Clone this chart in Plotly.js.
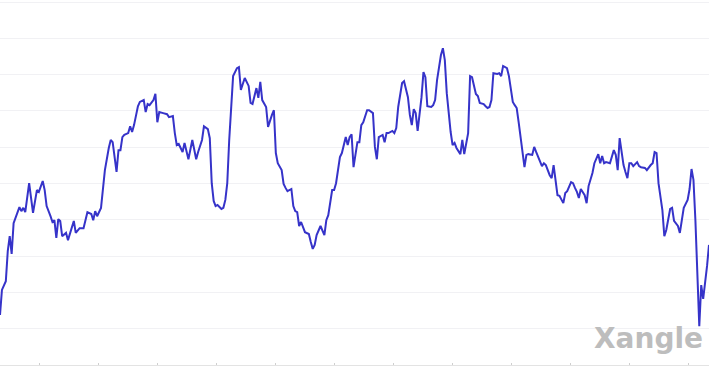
<!DOCTYPE html>
<html>
<head>
<meta charset="utf-8">
<script src="https://cdn.plot.ly/plotly-3.0.1.min.js"></script>
<style>html,body{margin:0;padding:0;background:#fff;}#chart{width:710px;height:366px;}</style>
</head>
<body>
<div id="chart"></div>
<script>
// day index within the one-year window
const days = [
  0,1,3,4,5,6,7,9,10,11,
  12,13,15,17,19,20,22,23,24,26,
  27,28,29,30,31,32,34,35,37,38,
  39,41,43,44,45,47,48,49,50,52,
  53,54,56,57,58,60,61,62,63,64,
  66,67,68,69,71,72,74,75,76,77,
  79,80,81,82,84,86,87,89,90,91,
  92,94,95,96,97,99,100,101,102,104,
  105,107,108,109,110,111,112,114,115,116,
  117,118,120,122,123,124,126,127,128,129,
  130,132,133,134,135,137,138,140,141,142,
  143,145,146,147,148,150,151,152,153,154,
  155,157,159,160,161,162,163,165,166,167,
  168,169,171,172,173,175,176,178,179,180,
  181,182,184,185,186,187,189,190,192,193,
  194,195,197,198,199,200,202,203,204,205,
  207,208,210,211,212,213,214,215,217,218,
  219,220,222,223,224,225,227,228,229,230,
  232,233,234,235,237,238,239,241,242,243,
  245,246,247,249,250,251,252,253,254,256,
  257,258,259,261,262,264,265,266,267,269,
  270,271,272,274,275,276,277,279,280,281,
  283,284,285,286,287,288,289,290,291,292,
  294,295,296,297,298,299,301,302,303,304,
  305,306,308,309,310,311,312,314,316,317,
  318,319,321,322,323,324,325,326,328,329,
  330,332,333,335,336,337,338,339,341,342,
  343,345,346,347,349,350,351,352,354,355,
  356,357,358,360,361,362,364,365
];
// price (relative units, gridlines every 10)
const price = [
  13.8,20.7,23.1,31.4,35.5,30.6,39.1,42.1,43.5,42.4,
  43.3,42.1,50.1,41.9,48.2,47.7,50.7,48.2,43.8,41.0,
  39.4,39.9,35.0,40.2,39.7,35.5,36.4,34.4,37.7,39.7,
  36.4,37.7,37.7,39.7,42.1,41.6,39.9,42.4,41.0,43.3,
  48.2,53.7,59.8,62.0,61.4,53.2,59.2,59.2,62.8,63.4,
  63.9,65.8,64.2,66.1,71.3,72.5,73.0,69.7,71.9,71.6,
  73.0,74.7,66.9,69.7,69.4,69.1,68.3,68.6,63.9,60.6,
  60.9,58.7,61.2,58.7,56.7,62.0,59.2,56.7,58.7,62.0,
  65.8,65.0,62.5,50.1,45.2,43.8,44.1,43.0,43.3,45.5,
  50.1,62.0,79.6,81.8,82.1,75.8,79.1,78.0,76.9,72.2,
  71.9,76.3,73.6,78.0,73.0,71.1,65.6,68.9,70.2,58.4,
  55.6,53.7,49.9,48.8,47.9,48.5,43.8,42.4,42.1,38.3,
  39.4,36.6,36.1,33.9,32.0,33.1,35.8,38.3,37.2,35.8,
  39.9,41.3,48.2,48.2,50.1,57.3,58.4,62.8,60.6,62.8,
  63.6,54.5,61.4,61.4,66.1,66.9,70.2,70.2,69.4,60.1,
  56.7,62.8,63.4,61.4,63.9,63.9,64.5,63.9,65.3,71.1,
  77.7,78.2,73.8,68.9,66.1,70.5,69.4,64.5,73.8,80.7,
  79.3,71.3,71.1,71.6,73.0,78.5,85.4,87.3,84.0,74.9,
  64.2,60.6,61.2,59.8,58.1,62.0,58.1,63.9,79.6,79.3,
  74.7,74.1,72.2,71.9,71.3,70.8,71.1,73.0,80.4,80.2,
  80.4,79.6,82.4,81.8,79.6,72.5,71.6,70.8,66.9,58.4,
  54.5,57.9,58.1,57.9,60.1,58.7,57.3,54.8,55.6,55.1,
  52.3,51.5,55.1,50.1,46.8,46.6,45.7,44.6,47.4,47.9,
  50.4,50.1,48.8,47.7,46.0,48.5,46.8,44.6,49.3,51.0,
  52.9,55.6,58.1,55.6,57.6,55.6,55.9,55.6,59.2,57.9,
  53.7,62.5,55.1,53.2,51.5,55.6,55.6,54.8,55.9,54.8,
  54.5,54.3,53.7,55.1,55.6,58.7,58.4,50.1,42.7,35.5,
  37.2,43.0,43.3,39.7,38.3,36.4,39.7,43.3,45.5,48.5,
  54.0,51.0,39.9,10.7,22.0,18.2,27.3,33.1
];
const watermark = "Xangle";

const trace = {
  x: days, y: price, type: "scatter", mode: "lines",
  line: {color: "#3633c9", width: 2},
  hoverinfo: "skip"
};
const layout = {
  width: 710, height: 366,
  margin: {l: 0, r: 1, t: 1, b: 1, pad: 0},
  paper_bgcolor: "#ffffff", plot_bgcolor: "#ffffff",
  showlegend: false,
  xaxis: {
    range: [0, 365], showticklabels: false, showgrid: false, zeroline: false,
    showline: true, linecolor: "#e3e3e3", linewidth: 1,
    ticks: "inside", ticklen: 2, tickcolor: "#cfcfcf",
    tickmode: "linear", tick0: 20.1, dtick: 30.4
  },
  yaxis: {
    range: [0, 100.3], dtick: 10, tick0: 0, showticklabels: false,
    showgrid: true, gridcolor: "#f1f1f4", gridwidth: 1, zeroline: false
  },
  annotations: [{
    text: "<b>" + watermark + "</b>", xref: "paper", yref: "paper",
    x: 0.994, y: 0.073, xanchor: "right", yanchor: "middle", showarrow: false,
    font: {family: "DejaVu Sans", size: 28, color: "#bdbdbd"}
  }]
};
Plotly.newPlot("chart", [trace], layout, {displayModeBar: false, staticPlot: true});
</script>
</body>
</html>
